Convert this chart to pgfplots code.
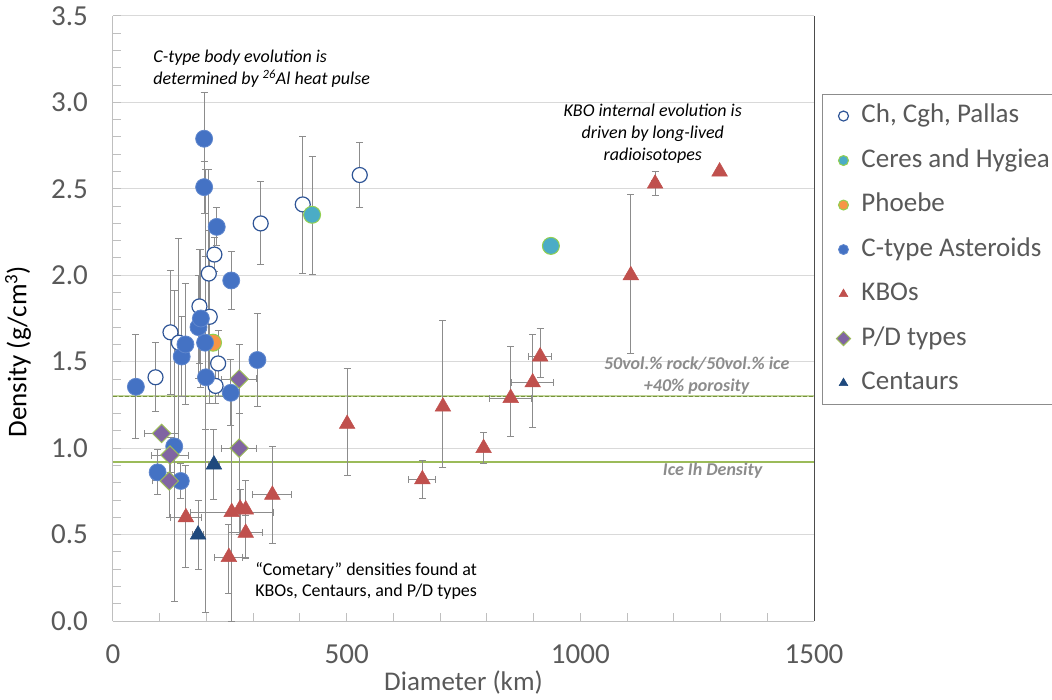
\documentclass[border=0pt]{standalone}
\usepackage{fontspec}
\setmainfont{Carlito}
\usepackage{pgfplots}
\pgfplotsset{compat=1.18}
\usepackage{pgfplotstable}
\definecolor{tickgray}{HTML}{595959}
\definecolor{gridgray}{HTML}{D9D9D9}
\definecolor{axisgray}{HTML}{BFBFBF}
\definecolor{errgray}{HTML}{8C8C8C}
\definecolor{cblue}{HTML}{4472C4}
\definecolor{chblue}{HTML}{2F5597}
\definecolor{cteal}{HTML}{4BACC6}
\definecolor{cgreen}{HTML}{92D050}
\definecolor{corange}{HTML}{F79646}
\definecolor{cred}{HTML}{C0504D}
\definecolor{cpurple}{HTML}{8064A2}
\definecolor{cpgreen}{HTML}{9BBB59}
\definecolor{cnavy}{HTML}{1F497D}
\definecolor{linegreen}{HTML}{9BBB59}
\definecolor{dashgreen}{HTML}{76923C}
\definecolor{notegray}{HTML}{8C8C8C}

% Ch, Cgh, Pallas
\pgfplotstableread{
x y eyp eym
91 1.41 0.20 0.20
123 1.67 0.36 0.36
141 1.61 0.60 0.60
185 1.82 0.33 0.33
207 1.76 0.50 0.50
205 2.01 0.60 0.60
217 2.12 0.10 0.10
219.5 1.36 0.10 0.10
225 1.49 0.19 0.19
316 2.30 0.24 0.24
406 2.41 0.39 0.40
528 2.58 0.19 0.19
}\chdata

% Ceres and Hygiea
\pgfplotstableread{
x y eyp eym
426 2.35 0.34 0.345
937 2.17 0 0
}\ceresdata

% Phoebe
\pgfplotstableread{
x y eyp eym
214 1.61 0 0
}\phoebedata

% C-type asteroids
\pgfplotstableread{
x y ex eyp eym
49 1.355 7 0.30 0.30
95.5 0.86 7 0.13 0.13
131 1.01 7 0.90 0.90
145 0.81 7 0.10 0.10
147 1.53 7 0.23 0.23
155 1.60 7 0.35 0.35
183 1.70 7 0.30 0.30
188 1.75 7 0.40 0.40
195 2.79 7 0.27 0.27
195 2.51 7 0.15 0.15
197 1.61 7 0.50 0.50
199 1.41 7 1.20 1.36
222 2.28 7 0.11 0.11
253 1.97 7 0.17 0.17
252 1.32 7 0.19 0.19
309 1.51 7 0.27 0.27
}\ctypedata

% KBOs
\pgfplotstableread{
x y exp exm eyp eym
156 0.60 33 33 0.30 0.29
248 0.37 30 30 0.19 0.21
254 0.63 89 89 0.65 0.63
272 0.65 0 0 0.11 0.15
284 0.645 0 0 0.17 0.28
284 0.51 36 36 0.10 0.15
341 0.73 42 42 0.28 0.28
501 1.14 0 0 0.32 0.30
662 0.82 29 29 0.11 0.11
706 1.24 0 0 0.50 0.35
793 1.00 0 0 0.09 0.09
851 1.29 45 45 0.30 0.22
898 1.38 45 45 0.28 0.26
914 1.53 25 25 0.16 0.12
1108 2.00 0 0 0.47 0.45
1160 2.53 8 8 0.07 0.07
1298 2.60 0 0 0 0
}\kbodata

% P/D types
\pgfplotstableread{
x y exp exm eyp eym
104 1.085 37 37 0 0
122 0.96 39 39 0.10 0.10
120.5 0.81 37 37 0.21 0.21
270 1.40 38 38 0.20 0.20
270 1.00 37 37 0.20 0.50
}\pddata

% Centaurs
\pgfplotstableread{
x y exp exm eyp eym
216 0.905 12 12 0.20 0.20
182 0.50 12 12 0.20 0.20
}\centdata

\pgfplotsset{
  errs/.style={
    error bars/x dir=both, error bars/x explicit,
    error bars/y dir=both, error bars/y explicit,
    error bars/error bar style={color=errgray, line width=1pt},
    error bars/error mark options={rotate=90, color=errgray, line width=1pt, mark size=3.5pt}
  }
}

\begin{document}
\begin{tikzpicture}
\path[use as bounding box] (-113pt,-78pt) rectangle (939pt,621pt);
\clip (-113pt,-78pt) rectangle (939pt,621pt);
\begin{axis}[
  at={(0pt,0pt)}, anchor=south west,
  scale only axis, width=701pt, height=605pt,
  xmin=0, xmax=1500, ymin=0, ymax=3.5,
  clip=false,
  axis lines*=left,
  axis line style={color=axisgray, line width=1pt},
  xtick={0,500,1000,1500}, ytick={0,0.5,1,1.5,2,2.5,3,3.5},
  minor x tick num=4, minor y tick num=4,
  tick align=inside, major tick length=8pt, minor tick length=8pt,
  tick style={color=axisgray, line width=1pt},
  ymajorgrids, major grid style={color=gridgray, line width=1pt},
  /pgf/number format/assume math mode=true,
  /pgf/number format/1000 sep={},
  tick label style={font=\fontsize{29}{34}\selectfont, text=tickgray, inner sep=0pt},
  xticklabel style={anchor=base, yshift=-42pt},
  yticklabel style={anchor=east, xshift=-25pt, /pgf/number format/fixed, /pgf/number format/fixed zerofill, /pgf/number format/precision=1},
  xlabel={Diameter (km)},
  xlabel style={at={(axis description cs:0.5,0)}, anchor=base, yshift=-69pt, font=\fontsize{27}{32}\selectfont, text=tickgray},
  ylabel={Density (g/cm\textsuperscript{3})},
  ylabel style={at={([xshift=-95pt]axis description cs:0,0.445)}, anchor=center, font=\fontsize{27}{32}\selectfont, text=black},
  legend cell align=left,
  legend image code/.code={\path[draw=none] (0pt,-6pt) (20pt,6pt); \draw[#1, mark size=5pt] plot coordinates {(10pt,0pt)};},
  legend style={at={(1.0114,0.871)}, anchor=north west, draw=errgray, line width=1pt, fill=white,
    font=\fontsize{27}{32}\selectfont, text=tickgray, inner xsep=11pt, inner ysep=9pt,
    row sep=19.5pt, column sep=8pt, nodes={inner sep=0pt, text height=19pt, text depth=6pt, draw=none}},
]
\addplot[forget plot, linegreen, line width=1.5pt] coordinates {(0,0.92) (1500,0.92)};
\addplot[forget plot, linegreen!60, line width=2pt] coordinates {(0,1.3) (1500,1.3)};
\addplot[forget plot, dashgreen, line width=1.5pt, dash pattern=on 4pt off 2pt] coordinates {(0,1.3) (1500,1.3)};

\addplot[only marks, mark=*, mark size=7.5pt, mark options={fill=white, draw=chblue, line width=1.2pt}, errs,
  error bars/x dir=none]
  table[x=x, y=y, y error plus=eyp, y error minus=eym]{\chdata};
\addlegendentry{Ch, Cgh, Pallas}

\addplot[only marks, mark=*, mark size=8.5pt, mark options={fill=cteal, draw=cgreen, line width=1pt}, errs,
  error bars/x dir=none]
  table[x=x, y=y, y error plus=eyp, y error minus=eym]{\ceresdata};
\addlegendentry{Ceres and Hygiea}

\addplot[only marks, mark=*, mark size=8.5pt, mark options={fill=corange, draw=cgreen, line width=1pt}]
  table[x=x, y=y]{\phoebedata};
\addlegendentry{Phoebe}

\addplot[only marks, mark=*, mark size=8.5pt, mark options={fill=cblue, draw=cblue!85!white, line width=0.8pt}, errs]
  table[x=x, y=y, x error plus=ex, x error minus=ex, y error plus=eyp, y error minus=eym]{\ctypedata};
\addlegendentry{C-type Asteroids}

\addplot[only marks, mark=triangle*, mark size=9pt, mark options={fill=cred, draw=cred, line width=0.5pt}, errs]
  table[x=x, y=y, x error plus=exp, x error minus=exm, y error plus=eyp, y error minus=eym]{\kbodata};
\addlegendentry{KBOs}

\addplot[only marks, mark=square*, mark size=6.5pt, mark options={rotate=45, fill=cpurple, draw=cpgreen, line width=1pt}, errs]
  table[x=x, y=y, x error plus=exp, x error minus=exm, y error plus=eyp, y error minus=eym]{\pddata};
\addlegendentry{P/D types}

\addplot[only marks, mark=triangle*, mark size=9pt, mark options={fill=cnavy, draw=cnavy, line width=0.5pt}, errs]
  table[x=x, y=y, x error plus=exp, x error minus=exm, y error plus=eyp, y error minus=eym]{\centdata};
\addlegendentry{Centaurs}

\draw[black!70, line width=1pt] (axis cs:1500,0) -- (axis cs:1500,3.5);

\node[anchor=west, align=left, font=\fontsize{18}{22}\selectfont\itshape] at (axis cs:79,3.195)
  {C-type body evolution is\\determined by \textsuperscript{26}Al heat pulse};
\node[align=center, font=\fontsize{18}{22}\selectfont\itshape] at (axis cs:1155,2.82)
  {KBO internal evolution is\\driven by long-lived\\radioisotopes};
\node[align=center, font=\fontsize{18}{22}\selectfont\bfseries\itshape, text=notegray] at (axis cs:1249,1.42)
  {50vol.\% rock/50vol.\% ice\\+40\% porosity};
\node[font=\fontsize{18}{22}\selectfont\bfseries\itshape, text=notegray] at (axis cs:1283,0.87)
  {Ice Ih Density};
\node[anchor=west, align=left, font=\fontsize{18}{21}\selectfont] at (axis cs:297,0.23)
  {“Cometary” densities found at\\KBOs, Centaurs, and P/D types};
\end{axis}
\end{tikzpicture}
\end{document}
